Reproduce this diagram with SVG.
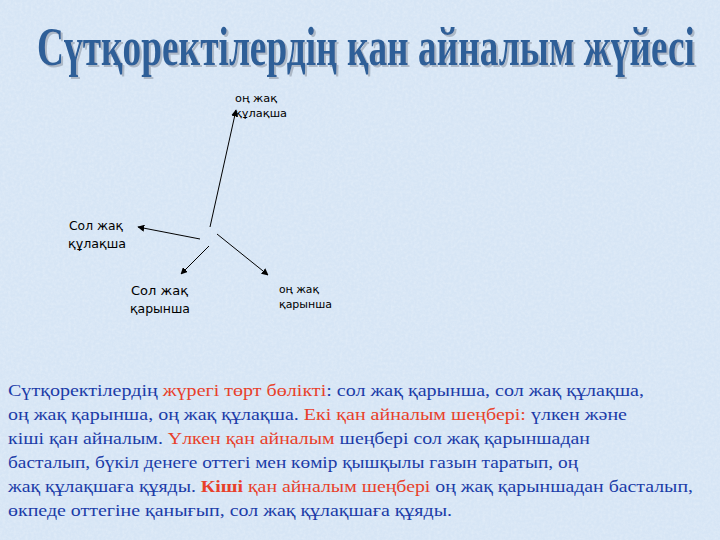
<svg xmlns="http://www.w3.org/2000/svg" width="720" height="540" viewBox="0 0 720 540">
<defs>
<style>
.title{font-family:"Liberation Serif","DejaVu Serif",serif;font-weight:bold;font-size:54px}
.lbl{font-family:"DejaVu Sans","Liberation Sans",sans-serif;fill:#000}
.p{font-family:"Liberation Serif","DejaVu Serif",serif;font-size:17.5px;fill:#1b3ca8}
.r{fill:#e8402a}
.b{font-weight:bold}
.con{stroke:#000;stroke-width:1;fill:none;marker-end:url(#ah)}
</style>
<marker id="ah" viewBox="0 0 10 10" refX="9" refY="5" markerWidth="7" markerHeight="7" markerUnits="userSpaceOnUse" orient="auto">
<path d="M0,0 L10,5 L0,10 z" fill="#000"/>
</marker>
<filter id="tex" x="0" y="0" width="100%" height="100%">
<feTurbulence type="fractalNoise" baseFrequency="0.35" numOctaves="3" seed="4" result="n"/>
<feColorMatrix in="n" type="matrix" values="0 0 0 0 1  0 0 0 0 1  0 0 0 0 1  0 0 0 0.55 -0.18"/>
</filter>
<filter id="shadow" filterUnits="userSpaceOnUse" x="0" y="0" width="720" height="120">
<feDropShadow dx="2" dy="2" stdDeviation="0.4" flood-color="#a9b4c2" flood-opacity="0.9"/>
</filter>
</defs>
<rect width="720" height="540" fill="#d6e5f5"/>
<rect width="720" height="540" filter="url(#tex)" opacity="0.7"/>

<g id="title" filter="url(#shadow)">
<text class="title" x="37" y="65" fill="#2f5f98" textLength="658" lengthAdjust="spacingAndGlyphs">Сүтқоректілердің қан айналым жүйесі</text>
</g>

<g id="connectors">
<line class="con" x1="210" y1="227" x2="236" y2="110"/>
<line class="con" x1="200" y1="239" x2="138" y2="227"/>
<line class="con" x1="209" y1="246" x2="181" y2="274"/>
<line class="con" x1="217" y1="234" x2="268" y2="275"/>
</g>

<g id="node-right-atrium">
<text class="lbl" font-size="11" x="235" y="102" textLength="42" lengthAdjust="spacingAndGlyphs">оң жақ</text>
<text class="lbl" font-size="11" x="235" y="117" textLength="52" lengthAdjust="spacingAndGlyphs">құлақша</text>
</g>
<g id="node-left-atrium">
<text class="lbl" font-size="12" x="69" y="230" textLength="54" lengthAdjust="spacingAndGlyphs">Сол жақ</text>
<text class="lbl" font-size="12" x="68" y="248" textLength="58" lengthAdjust="spacingAndGlyphs">құлақша</text>
</g>
<g id="node-left-ventricle">
<text class="lbl" font-size="12" x="131" y="295" textLength="57" lengthAdjust="spacingAndGlyphs">Сол жақ</text>
<text class="lbl" font-size="12" x="130" y="313" textLength="60" lengthAdjust="spacingAndGlyphs">қарынша</text>
</g>
<g id="node-right-ventricle">
<text class="lbl" font-size="11" x="279" y="293" textLength="40" lengthAdjust="spacingAndGlyphs">оң жақ</text>
<text class="lbl" font-size="11" x="279" y="308" textLength="53" lengthAdjust="spacingAndGlyphs">қарынша</text>
</g>

<g id="paragraph">
<text class="p" x="8" y="396" textLength="636" lengthAdjust="spacingAndGlyphs">Сүтқоректілердің <tspan class="r">жүрегі төрт бөлікті</tspan>: сол жақ қарынша, сол жақ құлақша,</text>
<text class="p" x="8" y="420" textLength="619" lengthAdjust="spacingAndGlyphs">оң жақ қарынша, оң жақ құлақша. <tspan class="r">Екі қан айналым шеңбері:</tspan> үлкен және</text>
<text class="p" x="8" y="444" textLength="582" lengthAdjust="spacingAndGlyphs">кіші қан айналым. <tspan class="r">Үлкен қан айналым</tspan> шеңбері сол жақ қарыншадан</text>
<text class="p" x="8" y="468" textLength="570" lengthAdjust="spacingAndGlyphs">басталып, бүкіл денеге оттегі мен көмір қышқылы газын таратып, оң</text>
<text class="p" x="8" y="492" textLength="685" lengthAdjust="spacingAndGlyphs">жақ құлақшаға құяды. <tspan class="r b">Кіші</tspan><tspan class="r"> қан айналым шеңбері</tspan> оң жақ қарыншадан басталып,</text>
<text class="p" x="8" y="516" textLength="444" lengthAdjust="spacingAndGlyphs">өкпеде оттегіне қанығып, сол жақ құлақшаға құяды.</text>
</g>
</svg>
